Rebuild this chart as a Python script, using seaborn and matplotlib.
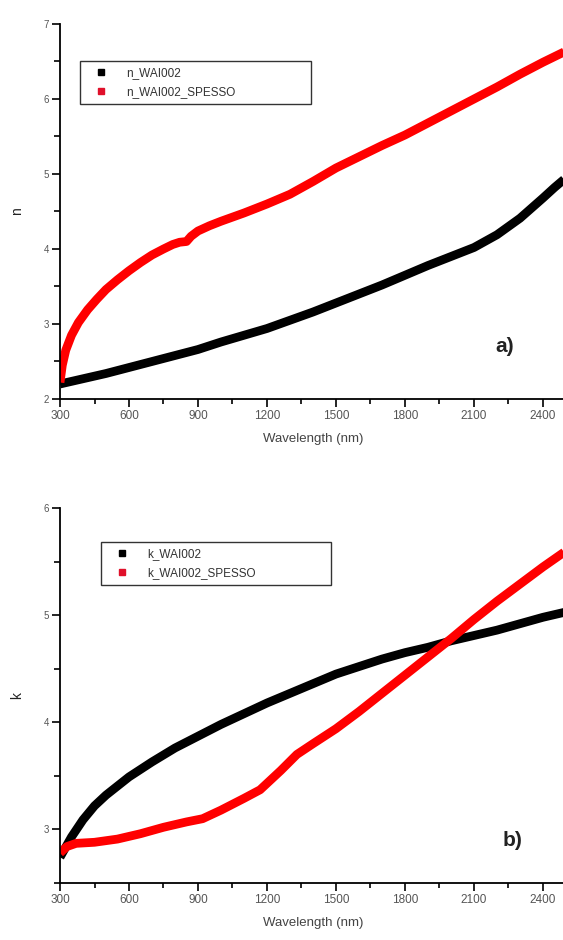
import numpy as np
import pandas as pd
import matplotlib
matplotlib.use("Agg")
import matplotlib.pyplot as plt
import seaborn as sns
from matplotlib.lines import Line2D
from matplotlib.ticker import MultipleLocator

# ---------------- data ----------------
wl_n_black = [300, 400, 500, 600, 700, 800, 900, 1000, 1100, 1200, 1300, 1400, 1500, 1600, 1700,
              1800, 1900, 2000, 2100, 2200, 2300, 2400, 2450, 2500]
n_black    = [2.20, 2.27, 2.34, 2.42, 2.50, 2.58, 2.66, 2.76, 2.85, 2.94, 3.05, 3.16, 3.28, 3.40, 3.52,
              3.65, 3.78, 3.90, 4.02, 4.19, 4.41, 4.68, 4.82, 4.95]

wl_n_red = [300, 310, 325, 350, 380, 420, 460, 500, 550, 600, 650, 700, 750, 790, 820, 850, 870, 900,
            950, 1000, 1100, 1200, 1300, 1400, 1500, 1600, 1700, 1800, 1900, 2000, 2100, 2200, 2300,
            2400, 2500]
n_red    = [2.22, 2.45, 2.65, 2.85, 3.02, 3.19, 3.33, 3.46, 3.59, 3.71, 3.82, 3.92, 4.00, 4.06, 4.09,
            4.10, 4.17, 4.24, 4.31, 4.37, 4.48, 4.60, 4.73, 4.90, 5.08, 5.23, 5.38, 5.52, 5.68, 5.84,
            6.00, 6.16, 6.33, 6.49, 6.64]

wl_k_black = [300, 350, 400, 450, 500, 600, 700, 800, 900, 1000, 1100, 1200, 1300, 1400, 1500, 1600,
              1700, 1800, 1900, 2000, 2100, 2200, 2300, 2400, 2500]
k_black    = [2.74, 2.93, 3.09, 3.22, 3.32, 3.49, 3.63, 3.76, 3.87, 3.98, 4.08, 4.18, 4.27, 4.36, 4.45,
              4.52, 4.59, 4.65, 4.70, 4.76, 4.81, 4.86, 4.92, 4.98, 5.03]

wl_k_red = [300, 330, 370, 450, 550, 650, 750, 850, 920, 1000, 1100, 1170, 1200, 1260, 1330, 1400,
            1500, 1600, 1700, 1800, 1900, 2000, 2100, 2200, 2300, 2400, 2500]
k_red    = [2.78, 2.84, 2.87, 2.88, 2.91, 2.96, 3.02, 3.07, 3.10, 3.18, 3.29, 3.37, 3.43, 3.55, 3.70,
            3.80, 3.94, 4.10, 4.27, 4.44, 4.61, 4.78, 4.96, 5.13, 5.29, 5.45, 5.60]

n_labels = ["n_WAI002", "n_WAI002_SPESSO"]
k_labels = ["k_WAI002", "k_WAI002_SPESSO"]
x_ticks = [300, 600, 900, 1200, 1500, 1800, 2100, 2400]

df_n = pd.concat([
    pd.DataFrame({"wl": wl_n_black, "val": n_black, "series": n_labels[0]}),
    pd.DataFrame({"wl": wl_n_red, "val": n_red, "series": n_labels[1]}),
])
df_k = pd.concat([
    pd.DataFrame({"wl": wl_k_black, "val": k_black, "series": k_labels[0]}),
    pd.DataFrame({"wl": wl_k_red, "val": k_red, "series": k_labels[1]}),
])

# ---------------- styling ----------------
sns.set_theme(style="ticks")
plt.rcParams["font.family"] = ["Liberation Sans", "DejaVu Sans"]

W, H = 563, 940
fig = plt.figure(figsize=(W / 100, H / 100), dpi=100)

left, right = 60 / W, 566 / W
ax1 = fig.add_axes([left, 1 - 399 / H, right - left, (399 - 24) / H])
ax2 = fig.add_axes([left, 1 - 883 / H, right - left, (883 - 508) / H])

BLACK = "#000000"
RED = "#ff0000"
LW = 6.3
TICK_COL = "#555555"


def style(ax, df, labels, ylim, ylabel, panel, panel_xy, leg_box):
    sns.lineplot(data=df, x="wl", y="val", hue="series", hue_order=labels,
                 palette=[BLACK, RED], linewidth=LW, ax=ax, legend=False,
                 sort=False, estimator=None)
    for ln in ax.get_lines():
        ln.set_solid_capstyle("butt")
        ln.set_solid_joinstyle("round")
    ax.set_xlim(300, 2500)
    ax.set_ylim(*ylim)
    ax.set_xticks(x_ticks)
    ax.xaxis.set_minor_locator(MultipleLocator(150))
    ax.yaxis.set_major_locator(MultipleLocator(1))
    ax.yaxis.set_minor_locator(MultipleLocator(0.5))
    ax.tick_params(axis="x", which="major", length=6, width=1.2, color="black",
                   labelsize=8.5, labelcolor=TICK_COL, pad=2)
    ax.tick_params(axis="x", which="minor", length=3.5, width=1.2, color="black")
    ax.tick_params(axis="y", which="major", length=6, width=1.2, color="black",
                   labelsize=7, labelcolor=TICK_COL, pad=2)
    ax.tick_params(axis="y", which="minor", length=4, width=1.2, color="black")
    for s in ("top", "right"):
        ax.spines[s].set_visible(False)
    for s in ("left", "bottom"):
        ax.spines[s].set_linewidth(1.3)
        ax.spines[s].set_color("black")
    ax.set_xlabel("Wavelength (nm)", fontsize=9.5, color="#444444", labelpad=8)
    ax.set_ylabel(ylabel, fontsize=10, color="#222222", labelpad=14)
    ax.text(panel_xy[0], panel_xy[1], panel, transform=ax.transAxes,
            fontsize=15, fontweight="bold", color="#222222",
            ha="center", va="center")
    handles = [
        Line2D([], [], linestyle="none", marker="s", markersize=4.5,
               markerfacecolor=BLACK, markeredgecolor=BLACK),
        Line2D([], [], linestyle="none", marker="s", markersize=4.5,
               markerfacecolor="#e0102a", markeredgecolor="#e0102a"),
    ]
    x0, y0, x1, y1 = leg_box
    leg = ax.legend(handles, labels, loc="upper left",
                    bbox_to_anchor=(x0 / W, 1 - y1 / H, (x1 - x0) / W, (y1 - y0) / H),
                    bbox_transform=fig.transFigure, mode="expand", frameon=True,
                    fancybox=False, fontsize=8.5, handletextpad=1.0, handlelength=2.4,
                    borderpad=0.55, labelspacing=0.55, borderaxespad=0)
    leg.get_frame().set_edgecolor("black")
    leg.get_frame().set_linewidth(1.0)
    for t in leg.get_texts():
        t.set_color("#333333")


style(ax1, df_n, n_labels, (2, 7), "n", "a)", ((505 - 60) / 506, (399 - 347) / 375),
      (80, 61, 311, 108))
style(ax2, df_k, k_labels, (2.5, 6), "k", "b)", ((513 - 60) / 506, (883 - 841) / 375),
      (101, 542, 331, 588))

fig.savefig("out.png", dpi=100)
